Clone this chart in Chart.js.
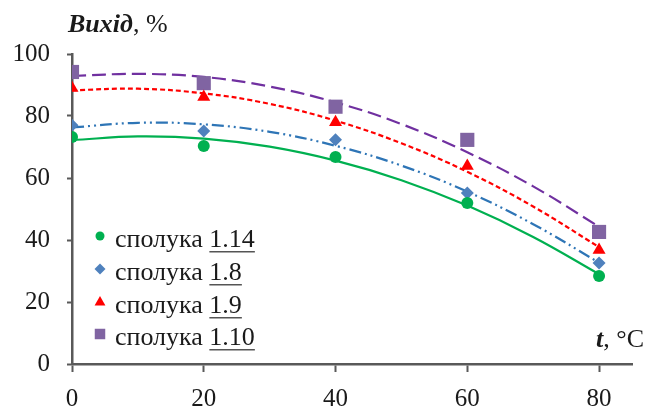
<!DOCTYPE html>
<html>
<head>
<meta charset="utf-8">
<script src="https://cdn.jsdelivr.net/npm/chart.js@4"></script>
<style>
html,body{margin:0;padding:0;background:#fff;}
#wrap{width:654px;height:408px;position:relative;}
</style>
</head>
<body>
<div id="wrap"><canvas id="c" width="654" height="408"></canvas></div>
<script>
// Data
const temps = [0, 20, 40, 60, 80];
const xTickValues = [0, 20, 40, 60, 80];
const yield114 = [73.2, 70.3, 66.8, 51.9, 28.4];
const yield18  = [77.0, 75.2, 72.3, 55.2, 32.6];
const yield19  = [89.0, 86.1, 78.0, 63.9, 36.8];
const yield110 = [94.2, 90.6, 83.0, 72.3, 42.6];
// Trend curves
const trendT   = [0, 10, 20, 30, 40, 50, 60, 70, 80];
const trend114 = [72.2, 73.4, 72.7, 70.1, 65.6, 59.3, 51.1, 41.0, 29.0];
const trend18  = [76.3, 77.8, 77.3, 74.9, 70.4, 64.0, 55.6, 45.1, 32.7];
const trend19  = [88.3, 88.8, 87.3, 83.9, 78.5, 71.2, 62.0, 50.8, 37.7];
const trend110 = [92.9, 93.6, 92.6, 89.5, 84.4, 77.4, 68.3, 57.3, 44.3];
const seriesNames = ['1.14', '1.8', '1.9', '1.10'];
const seriesPrefix = 'сполука ';
const yTitle = 'Вихід';
const yTitleRest = ', %';
const xTitle = 't';
const xTitleRest = ', °C';

const pts = (xs, ys) => xs.map((x, i) => ({x: x, y: ys[i]}));

const styles = [
  {line: '#00B050', mark: '#00B050', dash: [], shape: 'circle', r: 6, lr: 4.5},
  {line: '#2E75B6', mark: '#4F81BD', dash: [12, 4, 2, 4, 2, 4], shape: 'rectRot', r: 6.5, lr: 5.5},
  {line: '#FF0000', mark: '#FF0000', dash: [5, 3], shape: 'triangle', r: 7.5, lr: 6},
  {line: '#7030A0', mark: '#8064A2', dash: [14, 6], shape: 'rect', r: 10, lr: 7.5}
];
const yields = [yield114, yield18, yield19, yield110];
const trends = [trend114, trend18, trend19, trend110];

const datasets = [];
trends.forEach((tr, i) => {
  datasets.push({
    type: 'line', data: pts(trendT, tr), showLine: true, pointRadius: 0,
    borderColor: styles[i].line, borderWidth: 2.2, borderDash: styles[i].dash,
    tension: 0.4, fill: false, order: 2
  });
});
yields.forEach((yv, i) => {
  datasets.push({
    type: 'scatter', data: pts(temps, yv), showLine: false,
    pointStyle: styles[i].shape, pointRadius: styles[i].r,
    backgroundColor: styles[i].mark, borderColor: styles[i].mark, borderWidth: 0,
    order: 1
  });
});

const SERIF = '"Liberation Serif", "Times New Roman", serif';

const overlay = {
  id: 'overlay',
  afterDraw(chart) {
    const ctx = chart.ctx;
    ctx.save();
    ctx.fillStyle = '#1a1a1a';
    ctx.textBaseline = 'alphabetic';
    // y title
    ctx.font = 'italic bold 26px ' + SERIF;
    ctx.fillText(yTitle, 68, 32);
    let w = ctx.measureText(yTitle).width;
    ctx.font = '26px ' + SERIF;
    ctx.fillText(yTitleRest, 68 + w, 32);
    // x title
    ctx.font = 'italic bold 26px ' + SERIF;
    const w1 = ctx.measureText(xTitle).width;
    ctx.font = '26px ' + SERIF;
    const w2 = ctx.measureText(xTitleRest).width;
    const xs = 644 - w1 - w2;
    ctx.font = 'italic bold 26px ' + SERIF;
    ctx.fillText(xTitle, xs, 347);
    ctx.font = '26px ' + SERIF;
    ctx.fillText(xTitleRest, xs + w1, 347);
    // legend
    const baselines = [247, 280, 313, 345];
    seriesNames.forEach((name, i) => {
      const s = styles[i];
      const by = baselines[i];
      const my = by - 11;
      ctx.fillStyle = s.mark;
      ctx.beginPath();
      const r = s.lr;
      if (s.shape === 'circle') { ctx.arc(100, my, r, 0, Math.PI * 2); }
      else if (s.shape === 'rectRot') { ctx.moveTo(100, my - r); ctx.lineTo(100 + r, my); ctx.lineTo(100, my + r); ctx.lineTo(100 - r, my); }
      else if (s.shape === 'triangle') { ctx.moveTo(100, my - r); ctx.lineTo(100 + r * 0.9, my + r * 0.6); ctx.lineTo(100 - r * 0.9, my + r * 0.6); }
      else { ctx.rect(100 - r * 0.7, my - r * 0.7, r * 1.4, r * 1.4); }
      ctx.closePath();
      ctx.fill();
      ctx.fillStyle = '#1a1a1a';
      ctx.font = '26px ' + SERIF;
      ctx.fillText(seriesPrefix, 115, by);
      const pw = ctx.measureText(seriesPrefix).width;
      ctx.fillText(name, 115 + pw, by);
      const nw = ctx.measureText(name).width;
      ctx.fillStyle = '#555';
      ctx.fillRect(115 + pw, by + 4, nw, 1.5);
    });
    ctx.restore();
  }
};

new Chart(document.getElementById('c'), {
  type: 'scatter',
  data: {datasets: datasets},
  plugins: [overlay],
  options: {
    responsive: false,
    animation: false,
    layout: {padding: {top: 54, right: 22, left: 0, bottom: 0}},
    plugins: {legend: {display: false}, tooltip: {enabled: false}, title: {display: false}},
    scales: {
      x: {
        type: 'linear', min: 0, max: 85,
        afterBuildTicks: (s) => { s.ticks = xTickValues.map(v => ({value: v})); },
        afterFit: (s) => { s.height = 44; },
        border: {color: '#595959', width: 2.5},
        grid: {drawOnChartArea: false, drawTicks: true, tickLength: 8, tickColor: '#595959', tickWidth: 2},
        ticks: {color: '#1a1a1a', font: {family: SERIF, size: 25}, padding: 12, maxRotation: 0}
      },
      y: {
        type: 'linear', min: 0, max: 100,
        afterBuildTicks: (s) => { s.ticks = [0, 20, 40, 60, 80, 100].map(v => ({value: v})); },
        afterFit: (s) => { s.width = 72; },
        border: {color: '#595959', width: 2.5},
        grid: {drawOnChartArea: false, drawTicks: true, tickLength: 5, tickColor: '#595959', tickWidth: 2},
        ticks: {color: '#1a1a1a', font: {family: SERIF, size: 25}, padding: 17}
      }
    }
  }
});
</script>
</body>
</html>
